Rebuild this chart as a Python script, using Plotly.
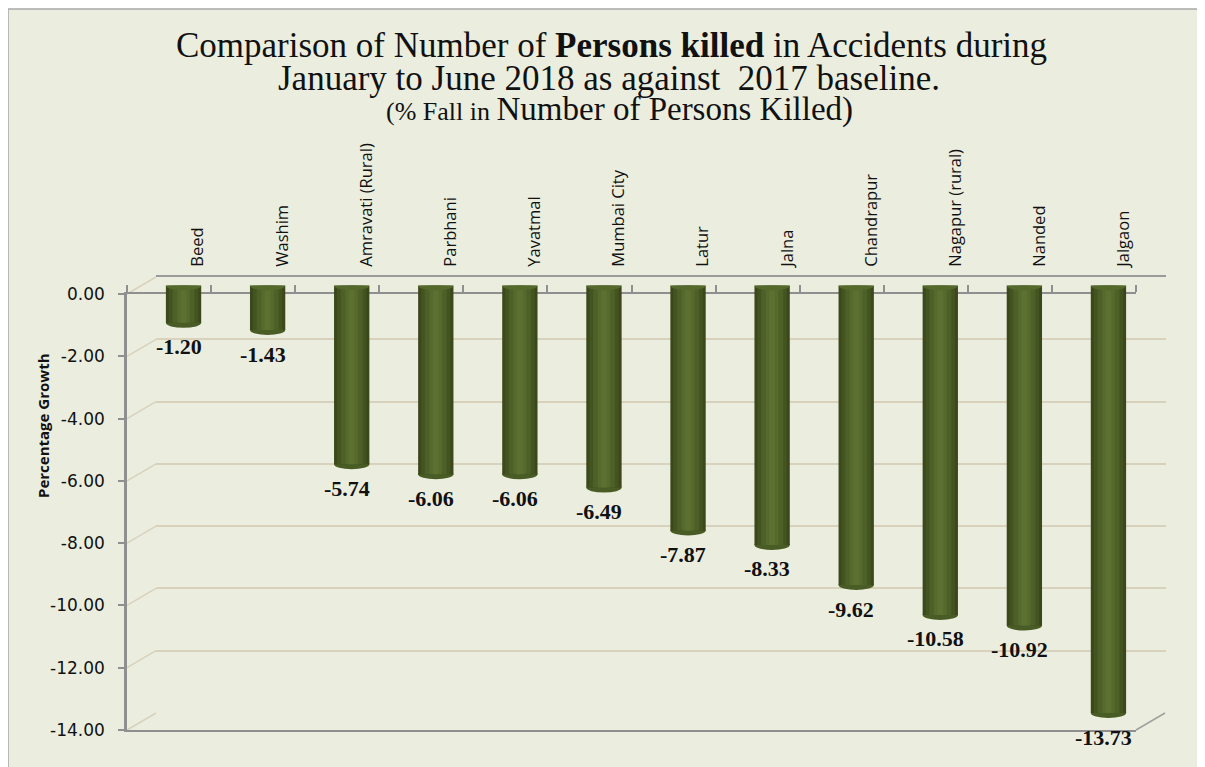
import plotly.graph_objects as go

# ---------------- data ----------------
districts = ["Beed", "Washim", "Amravati (Rural)", "Parbhani", "Yavatmal", "Mumbai City",
             "Latur", "Jalna", "Chandrapur", "Nagapur (rural)", "Nanded", "Jalgaon"]
pct_growth = [-1.20, -1.43, -5.74, -6.06, -6.06, -6.49, -7.87, -8.33, -9.62, -10.58, -10.92, -13.73]
y_ticks = [0, -2, -4, -6, -8, -10, -12, -14]
y_tick_labels = ["0.00", "-2.00", "-4.00", "-6.00", "-8.00", "-10.00", "-12.00", "-14.00"]
y_min, y_max = -14, 0

# ---------------- layout geometry (page pixels; body has an 8px margin) ----------------
OFF = 8
W, H = 1205 - OFF, 767 - OFF
L, T = 127, 277            # paper left / top (back wall top), page coords
RPX, BPX = 1166, 730       # paper right / bottom (front bottom), page coords
PW, PH = RPX - L, BPX - T
DX, DY = 29, 17            # 3-D depth offset of back wall
FRONT_R, FRONT_T = 1136, 294


def px_x(px):
    return (px - L) / PW


def px_y(py):
    return (BPX - py) / PH


BG = "#EBEEDF"
GRID = "#D8D1BC"
AXIS = "#8F8F8F"

fig = go.Figure()

# invisible anchors so the front and back-wall subplots are drawn
for xa, ya in (("x", "y"), ("x2", "y2")):
    fig.add_trace(go.Scatter(x=districts, y=pct_growth, mode="markers",
                             marker=dict(opacity=0), xaxis=xa, yaxis=ya,
                             hoverinfo="skip", showlegend=False))

bar_layers = [(0.42, "#3A481B"), (0.35, "#435421"), (0.26, "#4D6027"), (0.15, "#566A2D"), (0.07, "#5C7131")]
for w, c in bar_layers:
    fig.add_trace(go.Bar(
        x=districts, y=pct_growth, width=[w] * len(districts),
        marker=dict(color=c, line=dict(width=0)),
        xaxis="x3", yaxis="y3", hoverinfo="skip", showlegend=False,
    ))

# value labels
annotations = []
for d, v in zip(districts, pct_growth):
    annotations.append(dict(
        x=d, y=v, xref="x3", yref="y3", text=f"{v:.2f}", showarrow=False,
        yshift=-24, xshift=-5,
        font=dict(family="Liberation Serif", size=22, color="#111111", weight="bold"),
    ))

# titles
TITLE_FONT = "Liberation Serif"
annotations += [
    dict(x=px_x(611), y=px_y(45), xref="paper", yref="paper", showarrow=False,
         text="Comparison of Number of <b>Persons killed</b> in Accidents during",
         font=dict(family=TITLE_FONT, size=35, color="#111111"), xanchor="center", yanchor="middle"),
    dict(x=px_x(609), y=px_y(78), xref="paper", yref="paper", showarrow=False,
         text="January to June 2018 as against  2017 baseline.",
         font=dict(family=TITLE_FONT, size=35, color="#111111"), xanchor="center", yanchor="middle"),
    dict(x=px_x(619), y=px_y(110), xref="paper", yref="paper", showarrow=False,
         text="<span style='font-size:26px'>(% Fall in </span>Number of Persons Killed)",
         font=dict(family=TITLE_FONT, size=33, color="#111111"), xanchor="center", yanchor="middle"),
    dict(x=px_x(43), y=px_y(426), xref="paper", yref="paper", showarrow=False,
         text="<b>Percentage Growth</b>", textangle=-90,
         font=dict(family="Open Sans", size=15, color="#111111"), xanchor="center", yanchor="middle"),
]

# shapes: frame and 3-D connectors
shapes = [dict(type="rect", xref="paper", yref="paper", layer="below",
               x0=px_x(8), x1=px_x(1220), y0=px_y(9), y1=px_y(790),
               fillcolor=BG, line=dict(color="#A8A8A8", width=1.5))]
scale = (BPX - FRONT_T) / (y_max - y_min)
for v in y_ticks:
    yf = FRONT_T + (y_max - v) * scale
    shapes.append(dict(type="line", xref="paper", yref="paper", layer="below",
                       x0=px_x(L), y0=px_y(yf), x1=px_x(L + DX), y1=px_y(yf - DY),
                       line=dict(color=GRID, width=1.5)))
shapes.append(dict(type="line", xref="paper", yref="paper",
                   x0=px_x(FRONT_R), y0=px_y(BPX), x1=px_x(FRONT_R + DX), y1=px_y(BPX - DY),
                   line=dict(color="#A0A0A0", width=1.5)))

# cylinder caps (ellipses) at each bar's top and end, in bar-axis coordinates
for i, v in enumerate(pct_growth):
    shapes.append(dict(type="circle", xref="x3", yref="y3", x0=i - 0.21, x1=i + 0.21,
                       y0=-0.16, y1=0.16, fillcolor="#55692C", line=dict(width=0)))
    shapes.append(dict(type="circle", xref="x3", yref="y3", x0=i - 0.21, x1=i + 0.21,
                       y0=v - 0.16, y1=v + 0.16, fillcolor="#4A5C25", line=dict(width=0),
                       layer="below"))

cat_axis_common = dict(type="category", categoryorder="array", categoryarray=districts,
                       range=[-0.5, len(districts) - 0.5], fixedrange=True)

fig.update_layout(
    width=W, height=H,
    margin=dict(l=L - OFF, r=W + OFF - RPX, t=T - OFF, b=H + OFF - BPX, pad=0),
    paper_bgcolor="white", plot_bgcolor="rgba(0,0,0,0)",
    barmode="overlay", showlegend=False,
    annotations=annotations, shapes=shapes,
    # front axes
    xaxis=dict(**cat_axis_common, domain=[0, px_x(FRONT_R)], anchor="y", side="top",
               showline=True, linecolor=AXIS, linewidth=2, mirror=True,
               ticks="outside", ticklen=7, tickcolor=AXIS, tickwidth=1.5, tickson="boundaries",
               showticklabels=False, showgrid=False, zeroline=False),
    yaxis=dict(domain=[0, px_y(FRONT_T)], range=[y_min, y_max], anchor="x",
               tickvals=y_ticks, ticktext=y_tick_labels, ticks="outside", ticklen=6,
               tickcolor=AXIS, tickwidth=1.5, ticklabelstandoff=10,
               showline=True, linecolor=AXIS, linewidth=2.5, showgrid=False, zeroline=False,
               tickfont=dict(family="DejaVu Sans", size=17, color="#111111"), fixedrange=True),
    # back wall axes
    xaxis2=dict(**cat_axis_common, domain=[px_x(L + DX), 1], anchor="y2", side="top",
                showline=True, linecolor="#9A9A9A", linewidth=2, ticks="",
                tickangle=-90, ticklabelstandoff=5,
                tickfont=dict(family="Open Sans", size=16.5, color="#111111"),
                showgrid=False, zeroline=False),
    yaxis2=dict(domain=[px_y(BPX - DY), 1], range=[y_min, y_max], anchor="x2",
                tickvals=y_ticks, showticklabels=False, ticks="", showline=False,
                showgrid=True, gridcolor=GRID, gridwidth=1.5, zeroline=False, fixedrange=True),
    # mid-depth axes for the bars
    xaxis3=dict(**cat_axis_common, domain=[px_x(L + DX / 2), px_x(FRONT_R + DX / 2)],
                anchor="y3", visible=False),
    yaxis3=dict(domain=[px_y(BPX - DY / 2), px_y(FRONT_T - DY / 2)], range=[y_min, y_max],
                anchor="x3", visible=False, fixedrange=True),
)

fig.write_html("out.html")
